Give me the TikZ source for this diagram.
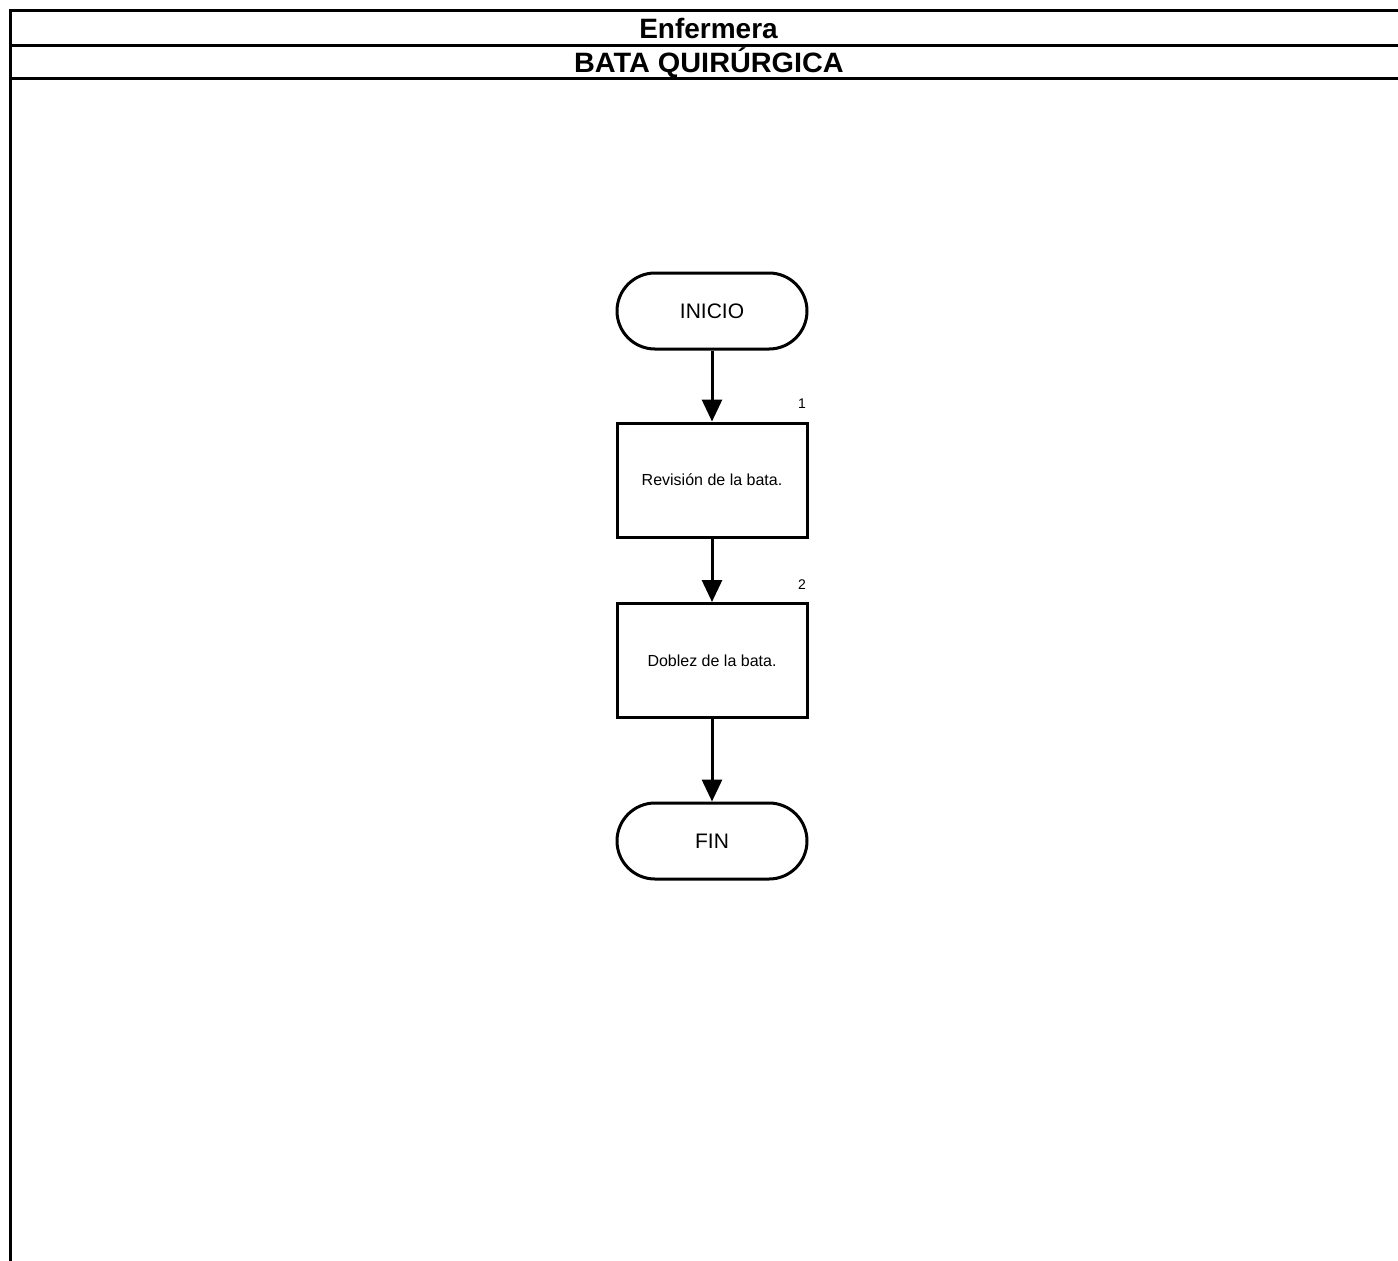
\documentclass[tikz,border=0pt]{standalone}
\usepackage{fontspec}
\setmainfont{Liberation Sans}
\usetikzlibrary{arrows.meta}
\begin{document}
\begin{tikzpicture}[x=0.5pt,y=-0.5pt,
  frame/.style={line width=1.5pt},
  term/.style={draw,line width=1.5pt,rounded corners=19pt,minimum width=95pt,minimum height=38pt,inner sep=0pt,font=\fontsize{10.5pt}{12pt}\selectfont},
  proc/.style={draw,line width=1.5pt,minimum width=95pt,minimum height=57pt,inner sep=0pt,font=\fontsize{8pt}{9.5pt}\selectfont},
  num/.style={font=\fontsize{7pt}{8pt}\selectfont,inner sep=0pt},
  flow/.style={line width=1.5pt,-{Triangle[width=10pt,length=11pt]}},
  hdr/.style={font=\bfseries\fontsize{14pt}{16pt}\selectfont,inner sep=0pt,anchor=base}]
\useasboundingbox (0,0) rectangle (1398,1260);
\fill[white] (0,0) rectangle (1398,1260);
% frame
\draw[frame] (10,1262) -- (10,10) -- (1400,10);
\draw[frame] (10,45) -- (1400,45);
\draw[frame] (10,78) -- (1400,78);
\node[hdr] (t1) at (708.5,38.7) {Enfermera};
\node[hdr] (t2) at (709,72.5) {\scalebox{1.03}[1]{BATA QUIRÚRGICA}};
% flow
\node[term] (ini) at (712,311) {INICIO};
\node[proc] (p1) at (712,480) {Revisión de la bata.};
\node[proc] (p2) at (712,660.5) {Doblez de la bata.};
\node[term] (fin) at (712,841) {FIN};
\node[num] (n1) at (802,404) {1};
\node[num] (n2) at (802,585) {2};
\draw[flow] (ini) -- (p1);
\draw[flow] (p1) -- (p2);
\draw[flow] (p2) -- (fin);
\end{tikzpicture}
\end{document}
